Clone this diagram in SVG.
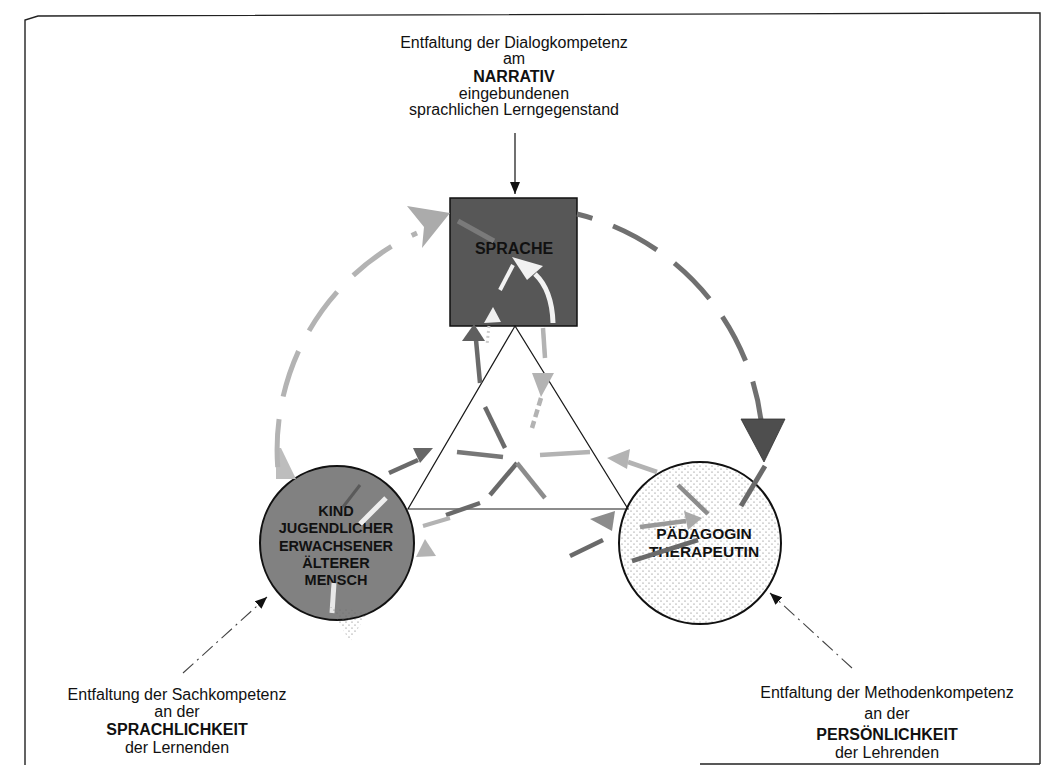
<svg xmlns="http://www.w3.org/2000/svg" width="1052" height="767" viewBox="0 0 1052 767">
  <style>
    text { font-family: "Liberation Sans", Arial, sans-serif; fill: #111; }
    .lbl { font-size: 16px; text-anchor: middle; }
    .b { font-weight: bold; }
    .nt { font-weight: bold; text-anchor: middle; fill: #111; }
    .frame { fill: none; stroke: #222; stroke-width: 1.4; }
    .tri { fill: none; stroke: #1a1a1a; stroke-width: 1.2; }
    .big-r { fill: none; stroke: #707070; stroke-width: 5; stroke-dasharray: 50 22; stroke-dashoffset: 34; }
    .big-l { fill: none; stroke: #b3b3b3; stroke-width: 5; stroke-dasharray: 48 23; stroke-dashoffset: 58; }
    .dk { fill: none; stroke: #6a6a6a; stroke-width: 4.5; }
    .md { fill: none; stroke: #8c8c8c; stroke-width: 4.5; }
    .lt { fill: none; stroke: #b3b3b3; stroke-width: 4.5; }
    .wh { fill: none; stroke: #f2f2f2; stroke-width: 5; }
    .dd { fill: none; stroke: #444; stroke-width: 1.1; stroke-dasharray: 14 5 2 5; }
    .solid { fill: none; stroke: #111; stroke-width: 1.2; }
  </style>
  <defs>
    <pattern id="dots" width="6" height="6" patternUnits="userSpaceOnUse">
      <circle cx="1" cy="1" r="0.6" fill="#666"/>
      <circle cx="4" cy="4" r="0.6" fill="#666"/>
    </pattern>
    <marker id="ah" markerUnits="userSpaceOnUse" markerWidth="12" markerHeight="10" refX="12" refY="5" orient="auto">
      <path d="M0,0 L12,5 L0,10 z" fill="#111"/>
    </marker>
  </defs>

  <!-- outer frame -->
  <g id="frame">
    <path class="frame" d="M25,765 V20 L38,16 L1040,13 V764 M700,764 H1040"/>
  </g>

  <!-- nodes -->
  <g id="node-sprache">
    <rect x="450" y="198" width="127" height="128" fill="#575757" stroke="#111" stroke-width="1.5"/>
    <text class="nt" x="514" y="254" font-size="16">SPRACHE</text>
  </g>

  <g id="node-lernende">
    <circle cx="337" cy="543" r="77" fill="#818181" stroke="#111" stroke-width="2"/>
    <text class="nt" font-size="14.5" x="336" y="516">KIND</text>
    <text class="nt" font-size="14.5" x="336" y="533">JUGENDLICHER</text>
    <text class="nt" font-size="14.5" x="336" y="551">ERWACHSENER</text>
    <text class="nt" font-size="14.5" x="336" y="568">ÄLTERER</text>
    <text class="nt" font-size="14.5" x="336" y="585">MENSCH</text>
  </g>

  <g id="node-lehrende">
    <circle cx="700" cy="543" r="81" fill="#fff" stroke="#111" stroke-width="2"/>
    <circle cx="700" cy="543" r="80" fill="url(#dots)"/>
    <text class="nt" font-size="15.5" x="704" y="539">PÄDAGOGIN</text>
    <text class="nt" font-size="15.5" x="704" y="557">THERAPEUTIN</text>
  </g>

  <g id="label-dialog">
    <text class="lbl" x="514" y="48">Entfaltung der Dialogkompetenz</text>
    <text class="lbl" x="514" y="64">am</text>
    <text class="lbl b" x="514" y="82">NARRATIV</text>
    <text class="lbl" x="514" y="99">eingebundenen</text>
    <text class="lbl" x="514" y="115">sprachlichen Lerngegenstand</text>
  </g>

  <g id="label-sach">
    <text class="lbl" x="177" y="700">Entfaltung der Sachkompetenz</text>
    <text class="lbl" x="177" y="717">an der</text>
    <text class="lbl b" x="177" y="735">SPRACHLICHKEIT</text>
    <text class="lbl" x="177" y="753">der Lernenden</text>
  </g>

  <g id="label-methode">
    <text class="lbl" x="887" y="698">Entfaltung der Methodenkompetenz</text>
    <text class="lbl" x="887" y="719">an der</text>
    <text class="lbl b" x="887" y="740">PERSÖNLICHKEIT</text>
    <text class="lbl" x="887" y="758">der Lehrenden</text>
  </g>

  <!-- connectors -->
  <g id="connectors">
    <!-- triangle joining the three nodes -->
    <path class="tri" d="M515,326 L408,509 H628 Z"/>

    <!-- input arrows from the three competence labels -->
    <line class="solid" x1="515" y1="133" x2="515" y2="194" marker-end="url(#ah)"/>
    <line class="dd" x1="183" y1="673" x2="267" y2="597" marker-end="url(#ah)"/>
    <line class="dd" x1="852" y1="668" x2="770" y2="593" marker-end="url(#ah)"/>

    <!-- large outer cycle: left circle up to the box -->
    <polygon points="276,448 281,448 296,479 276,479" fill="#bdbdbd"/>
    <path class="big-l" d="M279,480 A238,238 0 0 1 417,233"/>
    <polygon points="450,213 407,206 424,227 422,248" fill="#ababab"/>
    <line x1="458" y1="221" x2="494" y2="241" stroke="#7a7a7a" stroke-width="5"/>

    <!-- large outer cycle: box down to the right circle -->
    <path class="big-r" d="M577,214 A245,245 0 0 1 761,420"/>
    <polygon points="741,419 785,419 764,462" fill="#4e4e4e" stroke="#333" stroke-width="0.8"/>
    <line x1="765" y1="466" x2="741" y2="506" stroke="#6a6a6a" stroke-width="5"/>

    <!-- inner arrows along the left side -->
    <line class="dk" x1="389" y1="473" x2="418" y2="460"/>
    <polygon points="433,448 413,448 420,463" fill="#666"/>
    <line class="dk" x1="480" y1="383" x2="476" y2="340"/>
    <polygon points="462,341 485,341 474,324" fill="#5f5f5f"/>
    <line class="dk" x1="485" y1="407" x2="505" y2="448"/>
    <line x1="457" y1="452" x2="503" y2="457" stroke="#777" stroke-width="4.5"/>

    <!-- inner arrows along the right side -->
    <path class="wh" d="M553,323 Q552,290 535,274"/>
    <polygon points="512,257 543,266 527,280" fill="#f2f2f2"/>
    <line x1="500" y1="290" x2="513" y2="265" stroke="#f2f2f2" stroke-width="4"/>
    <polygon points="493,307 484,323 501,322" fill="#f0f0f0"/>
    <line x1="489" y1="326" x2="487" y2="345" stroke="#ccc" stroke-width="3" stroke-dasharray="2 3"/>
    <line class="lt" x1="543" y1="328" x2="545" y2="358"/>
    <polygon points="532,373 554,373 541,397" fill="#b3b3b3"/>
    <line class="lt" x1="541" y1="398" x2="532" y2="428" stroke-dasharray="8 4"/>
    <line class="lt" x1="540" y1="455" x2="590" y2="452"/>
    <polygon points="607,458 630,449 627,469" fill="#b3b3b3"/>
    <line class="lt" x1="628" y1="462" x2="657" y2="472"/>
    <line class="md" x1="678" y1="485" x2="708" y2="514"/>

    <!-- inner arrows along the base -->
    <line class="dk" x1="490" y1="495" x2="517" y2="463"/>
    <line class="md" x1="517" y1="463" x2="545" y2="498"/>
    <line class="dk" x1="446" y1="515" x2="480" y2="503"/>
    <line x1="423" y1="526" x2="450" y2="518" stroke="#b3b3b3" stroke-width="4"/>
    <polygon points="425,539 416,557 436,556" fill="#b3b3b3"/>
    <polygon points="590,519 615,511 612,531" fill="#8c8c8c"/>
    <line class="dk" x1="570" y1="556" x2="603" y2="540"/>

    <!-- marks inside the circles -->
    <line x1="360" y1="485" x2="343" y2="507" stroke="#5a5a5a" stroke-width="3"/>
    <line x1="386" y1="498" x2="360" y2="524" stroke="#eee" stroke-width="5"/>
    <line x1="334" y1="583" x2="332" y2="613" stroke="#e8e8e8" stroke-width="5"/>
    <polygon points="330,607 368,612 350,642" fill="url(#dots)"/>
    <line x1="640" y1="527" x2="686" y2="521" stroke="#999" stroke-width="4.5"/>
    <polygon points="702,518 684,511 688,530" fill="#aaa"/>
    <line class="dk" x1="632" y1="561" x2="698" y2="540"/>
  </g>
</svg>
